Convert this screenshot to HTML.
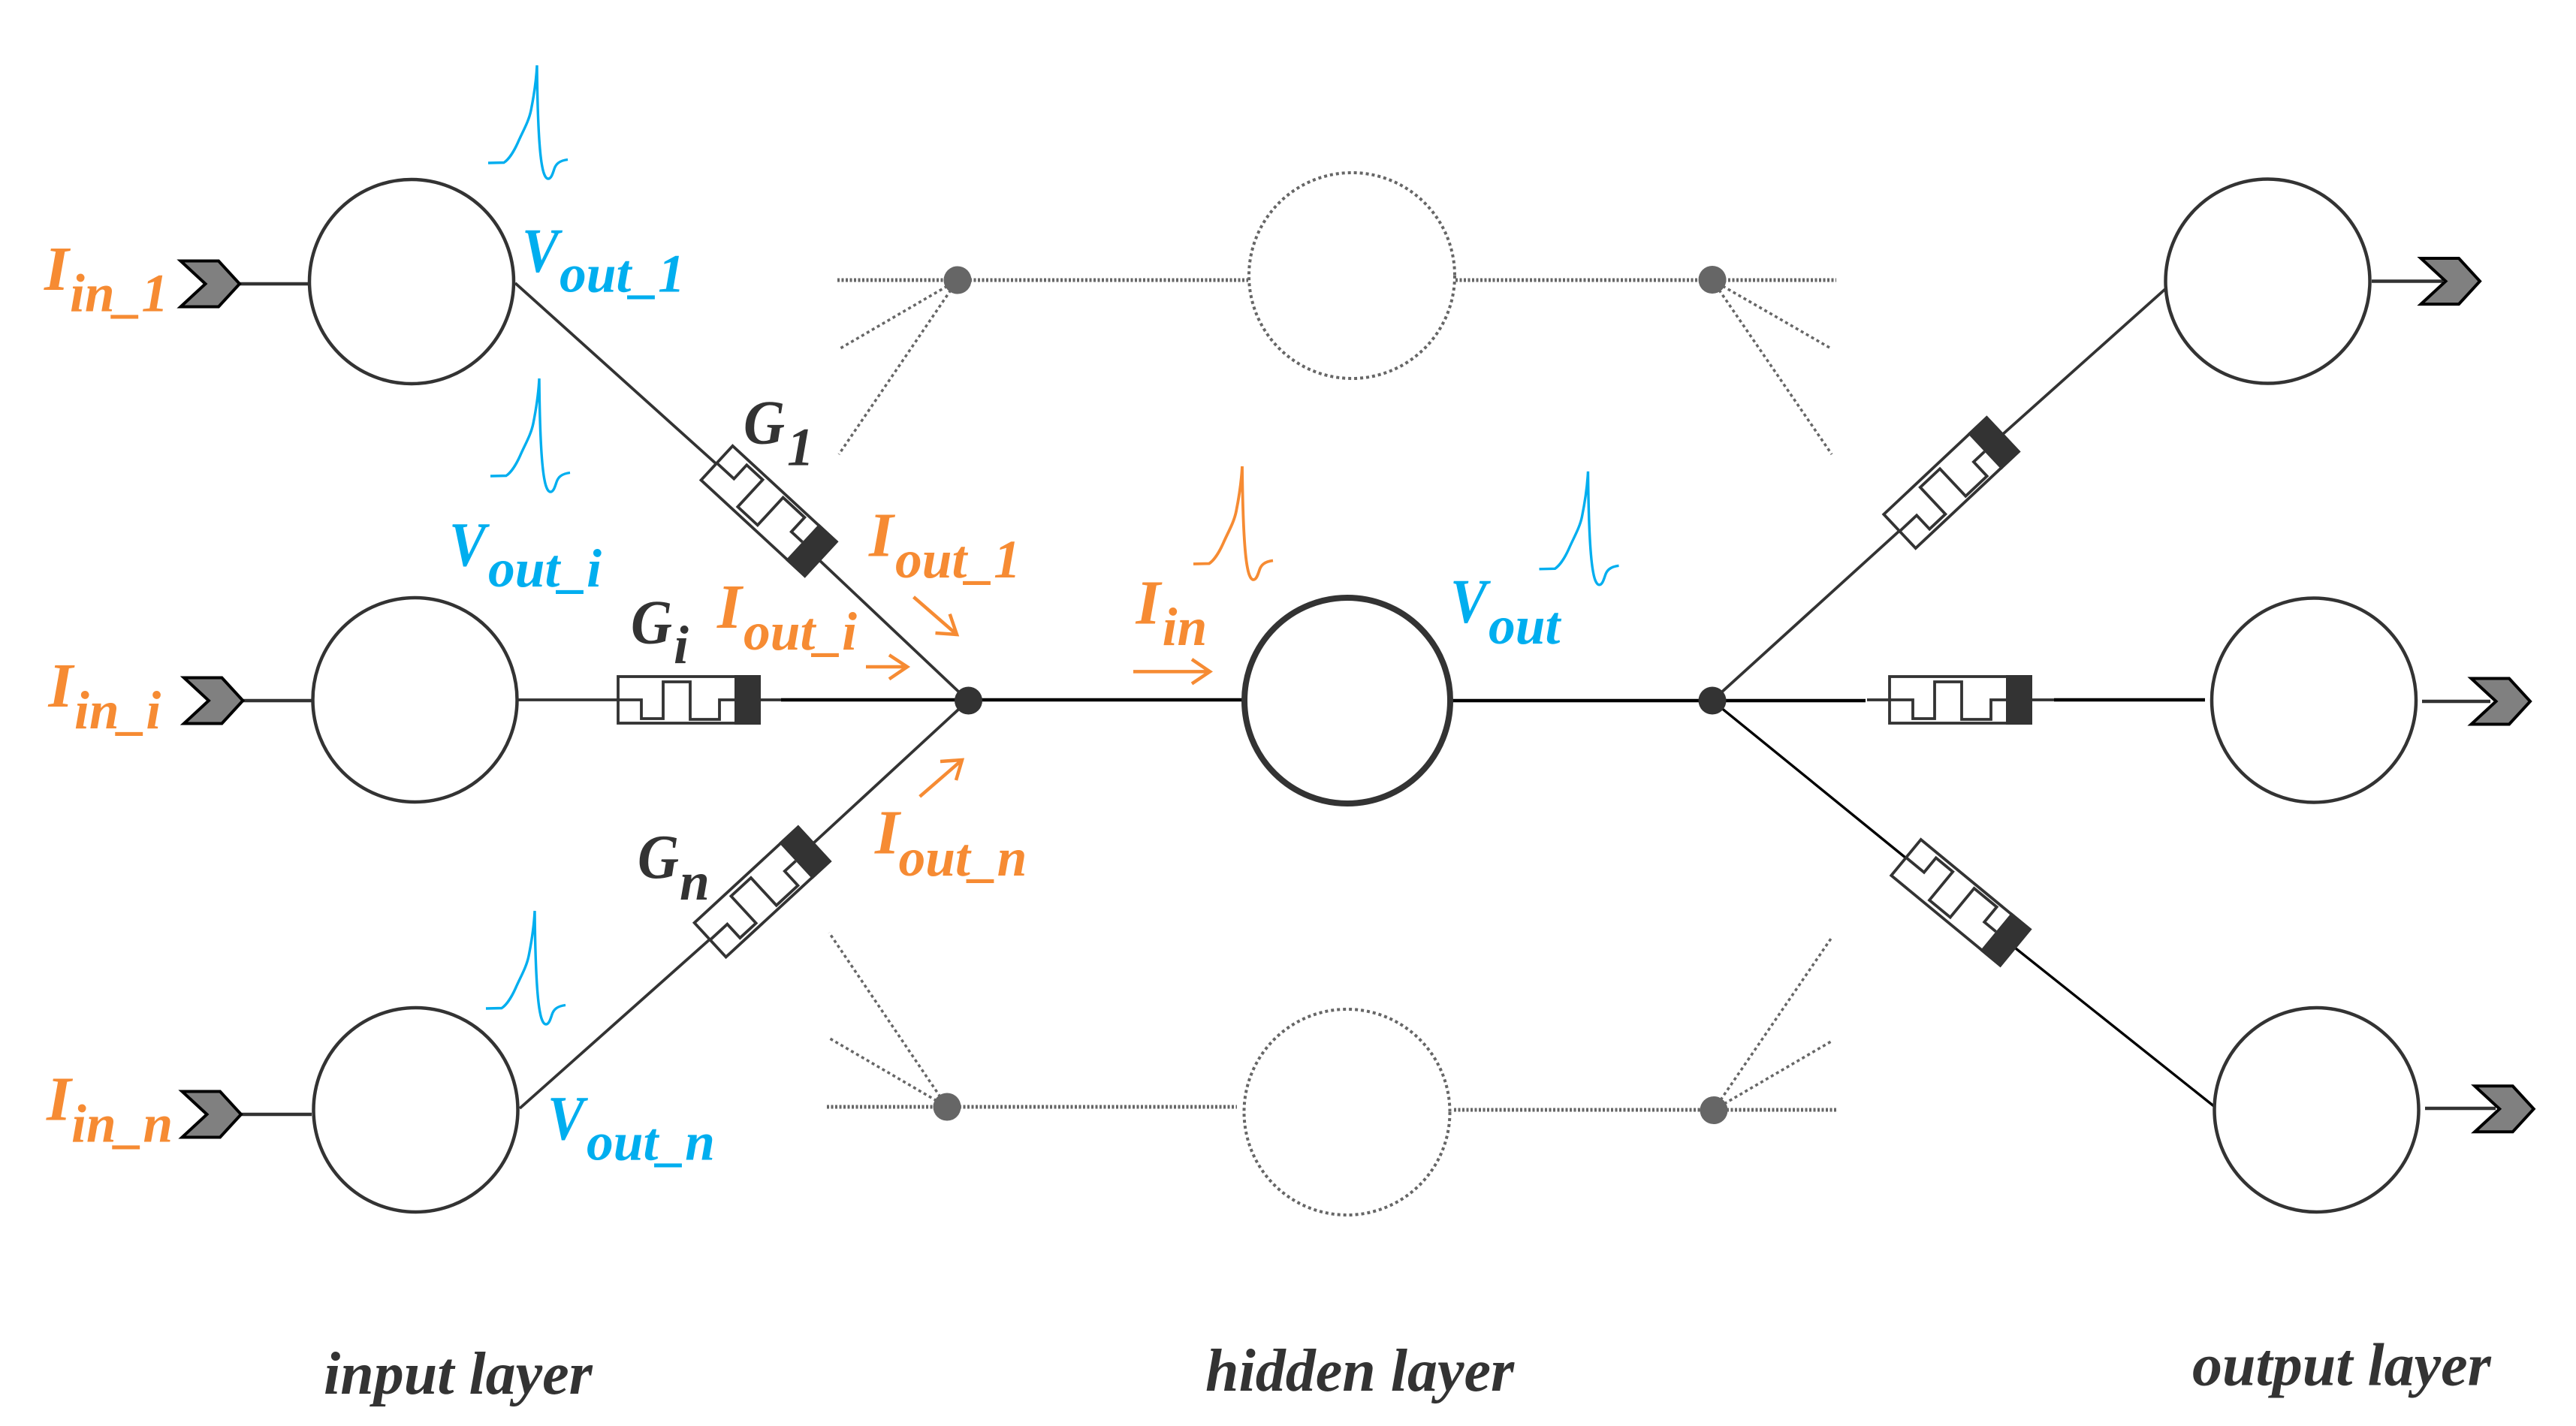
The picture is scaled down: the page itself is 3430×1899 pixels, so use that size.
<!DOCTYPE html>
<html>
<head>
<meta charset="utf-8">
<style>
html,body{margin:0;padding:0;background:#fff;width:3430px;height:1899px;overflow:hidden}
svg{display:block}
text{font-family:"Liberation Serif",serif;font-style:italic;font-weight:bold}
.o{fill:#F68B33}.b{fill:#00AEEF}.d{fill:#333}
.big{font-size:84px}.sub{font-size:71.5px}
</style>
</head>
<body>
<svg width="3430" height="1899" viewBox="0 0 3430 1899" xmlns="http://www.w3.org/2000/svg">
<defs>
<g id="syn">
<rect x="0" y="-31" width="188" height="62" fill="#fff" stroke="#333" stroke-width="3.8"/>
<rect x="155" y="-33" width="35" height="66" fill="#333"/>
<polyline points="0,0 31,0 31,25 60,25 60,-24 96,-24 96,26 135,26 135,0 155,0" fill="none" stroke="#333" stroke-width="3.8"/>
</g>
<path id="spike" fill="none" d="M0,0 L21,-.5 C28,-5 35,-17 39.5,-27 C46,-42 54,-55 57,-70 C60,-85 64,-110 65,-130 C65.5,-80 67,-20 72,5 C74,16 77,21 80,21 C84,21 86,14 88,8 C90,2 94,-3 106,-4.5"/>
<polygon id="chev" points="-78.5,-30.5 -28,-30.5 0,0 -28,30.5 -78.5,30.5 -45.5,0" fill="#808080" stroke="#000" stroke-width="4"/>
</defs>

<!-- stubs -->
<g stroke="#333" stroke-width="4.5" fill="none">
<line x1="319" y1="378" x2="411" y2="378"/>
<line x1="323" y1="933" x2="416" y2="933"/>
<line x1="321" y1="1484" x2="415" y2="1484"/>
<line x1="3158" y1="374.5" x2="3253" y2="374.5"/>
<line x1="3225" y1="934" x2="3316" y2="934"/>
<line x1="3229" y1="1476" x2="3323" y2="1476"/>
</g>

<!-- wires -->
<g stroke="#333" stroke-width="3.8" fill="none">
<line x1="686" y1="377" x2="954" y2="618"/>
<line x1="1091" y1="746" x2="1289" y2="933"/>
<line x1="692" y1="1476" x2="945" y2="1251"/>
<line x1="1084" y1="1122" x2="1289" y2="933"/>
<line x1="2280" y1="933" x2="2529" y2="707"/>
<line x1="2667" y1="578" x2="2883" y2="385"/>
<line x1="690" y1="932" x2="823" y2="932"/>
<line x1="1012" y1="932" x2="1045" y2="932"/>
<line x1="2486" y1="932" x2="2516" y2="932"/>
<line x1="2705" y1="932" x2="2735" y2="932"/>
</g>
<g stroke="#000" fill="none">
<line x1="1040" y1="932" x2="1655" y2="932" stroke-width="4.5"/>
<line x1="1934" y1="933" x2="2484" y2="933" stroke-width="4.5"/>
<line x1="2735" y1="932" x2="2936" y2="932" stroke-width="4.5"/>
<line x1="2280" y1="933" x2="2537" y2="1142" stroke-width="3.4"/>
<line x1="2684" y1="1263" x2="2949" y2="1474" stroke-width="3.4"/>
</g>

<!-- dotted -->
<g stroke="#666" fill="none">
<g stroke-width="5" stroke-dasharray="3 2.5">
<line x1="1115" y1="373" x2="1662" y2="373"/>
<line x1="1938" y1="373" x2="2445" y2="373"/>
<line x1="1101" y1="1474" x2="1647" y2="1474"/>
<line x1="1936" y1="1478" x2="2447" y2="1478"/>
</g>
<g stroke-width="3.5" stroke-dasharray="4 4">
<line x1="1275" y1="373" x2="1117" y2="465"/>
<line x1="1275" y1="373" x2="1117" y2="605"/>
<line x1="2280" y1="373" x2="2438" y2="464"/>
<line x1="2280" y1="373" x2="2439" y2="605"/>
<line x1="1261" y1="1474" x2="1104" y2="1242"/>
<line x1="1261" y1="1474" x2="1105" y2="1383"/>
<line x1="2282" y1="1478" x2="2440" y2="1247"/>
<line x1="2282" y1="1478" x2="2438" y2="1387"/>
</g>
<circle cx="1800" cy="367" r="137" fill="#fff" stroke-width="4" stroke-dasharray="4 4"/>
<circle cx="1793.5" cy="1481" r="137" fill="#fff" stroke-width="4" stroke-dasharray="4 4"/>
</g>
<g fill="#666">
<circle cx="1275" cy="373" r="18.5"/><circle cx="2280" cy="372.5" r="18.5"/>
<circle cx="1261" cy="1474" r="18.5"/><circle cx="2282" cy="1478.5" r="18.5"/>
</g>

<!-- neurons -->
<g fill="#fff" stroke="#333" stroke-width="4.5">
<circle cx="548" cy="375" r="136"/>
<circle cx="552.5" cy="932" r="136"/>
<circle cx="553.5" cy="1478" r="136"/>
<circle cx="3019.5" cy="374.5" r="136"/>
<circle cx="3081" cy="932.5" r="136"/>
<circle cx="3084.5" cy="1478" r="136"/>
</g>
<circle cx="1794" cy="933" r="137" fill="#fff" stroke="#333" stroke-width="8"/>

<!-- junctions -->
<circle cx="1289.5" cy="933" r="18.5" fill="#333"/>
<circle cx="2280" cy="933" r="18.5" fill="#333"/>

<!-- synapses -->
<use href="#syn" transform="translate(823,932)"/>
<use href="#syn" transform="translate(2516,932)"/>
<use href="#syn" transform="translate(954.5,616.6) rotate(42.7) scale(1,-1)"/>
<use href="#syn" transform="translate(945.6,1251.7) rotate(-42.7)"/>
<use href="#syn" transform="translate(2529.5,707.5) rotate(-43.2)"/>
<use href="#syn" transform="translate(2538,1142) rotate(39.5) scale(1,-1)"/>

<!-- chevrons -->
<use href="#chev" transform="translate(319,378)"/>
<use href="#chev" transform="translate(323.4,933)"/>
<use href="#chev" transform="translate(321,1484)"/>
<use href="#chev" transform="translate(3302,374.5)"/>
<use href="#chev" transform="translate(3369,934)"/>
<use href="#chev" transform="translate(3373.7,1476.8)"/>

<!-- spikes -->
<g stroke="#00AEEF" stroke-width="3.4">
<use href="#spike" transform="translate(650,217)"/>
<use href="#spike" transform="translate(653,634)"/>
<use href="#spike" transform="translate(647,1343)"/>
<use href="#spike" transform="translate(2049.5,757.8)"/>
</g>
<use href="#spike" transform="translate(1589,751)" stroke="#F68B33" stroke-width="3.8"/>

<!-- orange arrows -->
<g stroke="#F68B33" stroke-width="4.5" fill="none">
<path d="M1216.5,795 L1274,845 M1264.7,817.7 L1274,845 L1245.5,843"/>
<path d="M1153,888 L1208,888 M1184,872.3 L1208,888 L1184,904.3"/>
<path d="M1224.7,1060.8 L1281,1012 M1252,1014 L1281,1012 L1273,1039"/>
<path d="M1509,894.4 L1611,894.4 M1587,878 L1611,894.4 L1587,910.5"/>
</g>

<!-- labels -->
<text class="o big" x="59" y="386">I</text><text class="o sub" x="93" y="414.5">in_1</text>
<text class="o big" x="64.5" y="941">I</text><text class="o sub" x="99" y="970">in_i</text>
<text class="o big" x="62" y="1491.4">I</text><text class="o sub" x="95" y="1520.6">in_n</text>

<text class="b big" x="695" y="361.7" textLength="49" lengthAdjust="spacingAndGlyphs">V</text><text class="b sub" x="745" y="388.7">out_1</text>
<text class="b big" x="598" y="753" textLength="49" lengthAdjust="spacingAndGlyphs">V</text><text class="b sub" x="650" y="780.8">out_i</text>
<text class="b big" x="729" y="1517" textLength="49" lengthAdjust="spacingAndGlyphs">V</text><text class="b sub" x="781" y="1544.7">out_n</text>

<text class="d big" x="990" y="590.7" textLength="55" lengthAdjust="spacingAndGlyphs">G</text><text class="d sub" x="1048" y="619.3">1</text>
<text class="d big" x="840" y="856.7" textLength="55" lengthAdjust="spacingAndGlyphs">G</text><text class="d sub" x="897" y="883">i</text>
<text class="d big" x="849" y="1169" textLength="55" lengthAdjust="spacingAndGlyphs">G</text><text class="d sub" x="905" y="1197.8">n</text>

<text class="o big" x="1157" y="740.7">I</text><text class="o sub" x="1192" y="769">out_1</text>
<text class="o big" x="955" y="836">I</text><text class="o sub" x="990" y="865">out_i</text>
<text class="o big" x="1165" y="1136.5">I</text><text class="o sub" x="1196.5" y="1166">out_n</text>

<text class="o big" x="1512.5" y="830.5">I</text><text class="o sub" x="1547.6" y="859">in</text>
<text class="b big" x="1931" y="828.6" textLength="49" lengthAdjust="spacingAndGlyphs">V</text><text class="b sub" x="1982" y="857">out</text>

<text class="d" font-size="80" x="431" y="1856">input layer</text>
<text class="d" font-size="80" x="1605" y="1852">hidden layer</text>
<text class="d" font-size="80" x="2919" y="1844.6">output layer</text>
</svg>
</body>
</html>
